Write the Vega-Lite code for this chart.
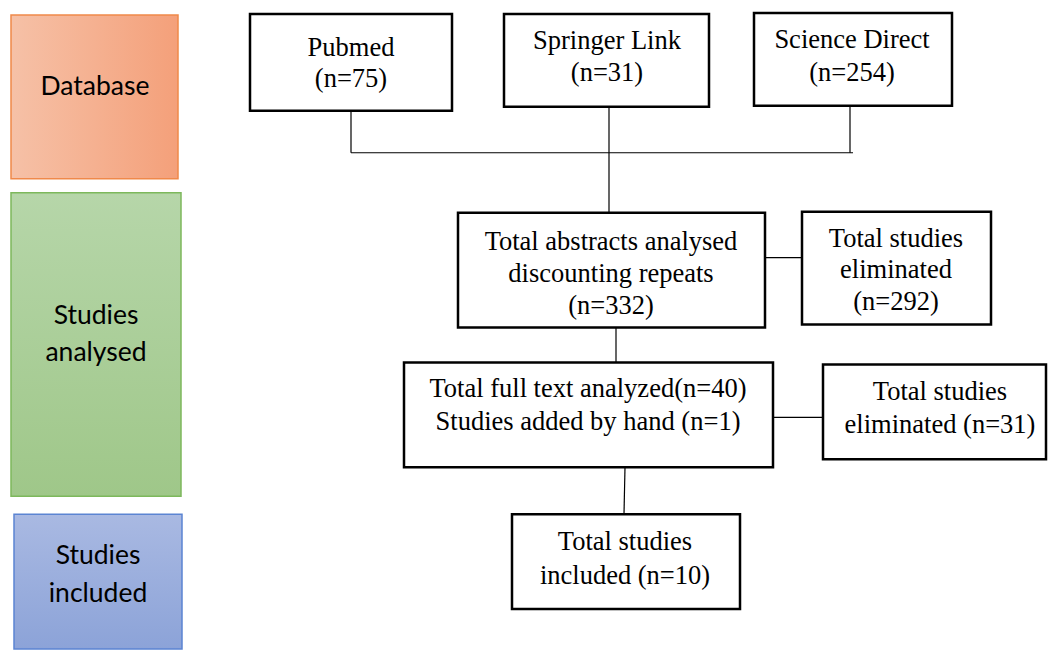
{
  "$schema": "https://vega.github.io/schema/vega-lite/v6.json",
  "width": 1048,
  "height": 650,
  "autosize": {"type": "fit", "contains": "padding"},
  "padding": 0,
  "background": "white",
  "config": {"view": {"stroke": null}},
  "datasets": {
    "side": [
      {"stage": "Database", "x1": 11, "x2": 178, "y1": 15, "y2": 179},
      {"stage": "Studies analysed", "x1": 11, "x2": 181, "y1": 193, "y2": 497},
      {"stage": "Studies included", "x1": 14, "x2": 182, "y1": 515, "y2": 650}
    ],
    "sideLabels": [
      {"text": "Database", "x": 95, "y": 87},
      {"text": "Studies", "x": 96, "y": 316},
      {"text": "analysed", "x": 96, "y": 354},
      {"text": "Studies", "x": 98, "y": 557},
      {"text": "included", "x": 98, "y": 595}
    ],
    "boxes": [
      {"box": "Pubmed", "x1": 250, "x2": 452, "y1": 14, "y2": 111},
      {"box": "Springer Link", "x1": 504, "x2": 709, "y1": 14, "y2": 107},
      {"box": "Science Direct", "x1": 754, "x2": 952, "y1": 13, "y2": 106},
      {"box": "Abstracts", "x1": 458, "x2": 765, "y1": 213, "y2": 328},
      {"box": "Eliminated 1", "x1": 802, "x2": 991, "y1": 212, "y2": 325},
      {"box": "Full text", "x1": 404, "x2": 773, "y1": 363, "y2": 468},
      {"box": "Eliminated 2", "x1": 823, "x2": 1046, "y1": 365, "y2": 460},
      {"box": "Included", "x1": 512, "x2": 740, "y1": 515, "y2": 610}
    ],
    "links": [
      {"x1": 351, "y1": 111, "x2": 351, "y2": 153},
      {"x1": 850, "y1": 106, "x2": 850, "y2": 153},
      {"x1": 351, "y1": 153, "x2": 853, "y2": 153},
      {"x1": 609, "y1": 107, "x2": 609, "y2": 213},
      {"x1": 765, "y1": 258, "x2": 802, "y2": 258},
      {"x1": 616, "y1": 328, "x2": 616, "y2": 363},
      {"x1": 773, "y1": 418, "x2": 823, "y2": 418},
      {"x1": 625, "y1": 468, "x2": 624, "y2": 515}
    ],
    "labels": [
      {"text": "Pubmed", "x": 351, "y": 48},
      {"text": "(n=75)", "x": 351, "y": 79},
      {"text": "Springer Link", "x": 607, "y": 41},
      {"text": "(n=31)", "x": 607, "y": 73},
      {"text": "Science Direct", "x": 852, "y": 40},
      {"text": "(n=254)", "x": 852, "y": 73},
      {"text": "Total abstracts analysed", "x": 611, "y": 242},
      {"text": "discounting repeats", "x": 611, "y": 274},
      {"text": "(n=332)", "x": 611, "y": 306},
      {"text": "Total studies", "x": 896, "y": 239},
      {"text": "eliminated", "x": 896, "y": 270},
      {"text": "(n=292)", "x": 896, "y": 302},
      {"text": "Total full text analyzed(n=40)", "x": 588, "y": 390},
      {"text": "Studies added by hand (n=1)", "x": 588, "y": 423},
      {"text": "Total studies", "x": 940, "y": 393},
      {"text": "eliminated (n=31)", "x": 940, "y": 426},
      {"text": "Total studies", "x": 625, "y": 543},
      {"text": "included (n=10)", "x": 625, "y": 577}
    ]
  },
  "layer": [
    {
      "data": {"name": "side"},
      "transform": [{"filter": "datum.stage === 'Database'"}],
      "mark": {"type": "rect", "stroke": "#F0894A", "strokeWidth": 1.5,
        "fill": {"gradient": "linear", "x1": 0, "y1": 0, "x2": 1, "y2": 0,
          "stops": [{"offset": 0, "color": "#F6C1A7"}, {"offset": 1, "color": "#F4A07A"}]}},
      "encoding": {
        "x": {"field": "x1", "type": "quantitative", "scale": {"domain": [0, 1048]}, "axis": null},
        "x2": {"field": "x2"},
        "y": {"field": "y1", "type": "quantitative", "scale": {"domain": [0, 650], "reverse": true}, "axis": null},
        "y2": {"field": "y2"}
      }
    },
    {
      "data": {"name": "side"},
      "transform": [{"filter": "datum.stage === 'Studies analysed'"}],
      "mark": {"type": "rect", "stroke": "#7DB85C", "strokeWidth": 1.5,
        "fill": {"gradient": "linear", "x1": 0, "y1": 0, "x2": 0, "y2": 1,
          "stops": [{"offset": 0, "color": "#B6D6A9"}, {"offset": 1, "color": "#9FC789"}]}},
      "encoding": {
        "x": {"field": "x1", "type": "quantitative", "scale": {"domain": [0, 1048]}, "axis": null},
        "x2": {"field": "x2"},
        "y": {"field": "y1", "type": "quantitative", "scale": {"domain": [0, 650], "reverse": true}, "axis": null},
        "y2": {"field": "y2"}
      }
    },
    {
      "data": {"name": "side"},
      "transform": [{"filter": "datum.stage === 'Studies included'"}],
      "mark": {"type": "rect", "stroke": "#5B84D2", "strokeWidth": 1.5,
        "fill": {"gradient": "linear", "x1": 0, "y1": 0, "x2": 0, "y2": 1,
          "stops": [{"offset": 0, "color": "#A9B9E2"}, {"offset": 1, "color": "#8CA3D8"}]}},
      "encoding": {
        "x": {"field": "x1", "type": "quantitative", "scale": {"domain": [0, 1048]}, "axis": null},
        "x2": {"field": "x2"},
        "y": {"field": "y1", "type": "quantitative", "scale": {"domain": [0, 650], "reverse": true}, "axis": null},
        "y2": {"field": "y2"}
      }
    },
    {
      "data": {"name": "sideLabels"},
      "mark": {"type": "text", "font": "Lato", "fontSize": 26.5, "color": "#000000", "baseline": "middle", "align": "center"},
      "encoding": {
        "x": {"field": "x", "type": "quantitative", "scale": {"domain": [0, 1048]}, "axis": null},
        "y": {"field": "y", "type": "quantitative", "scale": {"domain": [0, 650], "reverse": true}, "axis": null},
        "text": {"field": "text"}
      }
    },
    {
      "data": {"name": "links"},
      "mark": {"type": "rule", "color": "#000000", "strokeWidth": 1.2},
      "encoding": {
        "x": {"field": "x1", "type": "quantitative", "scale": {"domain": [0, 1048]}, "axis": null},
        "x2": {"field": "x2"},
        "y": {"field": "y1", "type": "quantitative", "scale": {"domain": [0, 650], "reverse": true}, "axis": null},
        "y2": {"field": "y2"}
      }
    },
    {
      "data": {"name": "boxes"},
      "mark": {"type": "rect", "fill": "#FFFFFF", "stroke": "#000000", "strokeWidth": 2.5},
      "encoding": {
        "x": {"field": "x1", "type": "quantitative", "scale": {"domain": [0, 1048]}, "axis": null},
        "x2": {"field": "x2"},
        "y": {"field": "y1", "type": "quantitative", "scale": {"domain": [0, 650], "reverse": true}, "axis": null},
        "y2": {"field": "y2"}
      }
    },
    {
      "data": {"name": "labels"},
      "mark": {"type": "text", "font": "Liberation Serif", "fontSize": 26.5, "color": "#000000", "baseline": "middle", "align": "center"},
      "encoding": {
        "x": {"field": "x", "type": "quantitative", "scale": {"domain": [0, 1048]}, "axis": null},
        "y": {"field": "y", "type": "quantitative", "scale": {"domain": [0, 650], "reverse": true}, "axis": null},
        "text": {"field": "text"}
      }
    }
  ]
}
